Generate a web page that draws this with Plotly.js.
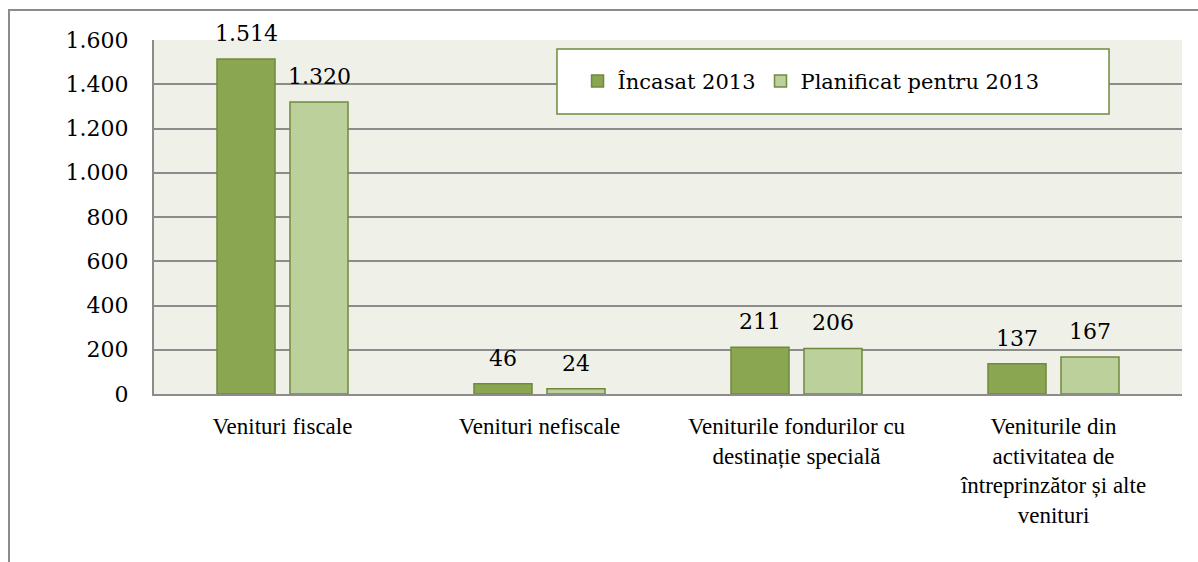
<!DOCTYPE html>
<html>
<head>
<meta charset="utf-8">
<script src="https://cdn.plot.ly/plotly-3.0.1.min.js"></script>
<style>
  html, body { margin: 0; padding: 0; background: #ffffff; }
  #wrap { position: relative; width: 1198px; height: 562px; overflow: hidden; }
  #chart { position: absolute; left: 0; top: 0; width: 1198px; height: 562px; }
  #frame { position: absolute; left: 8px; top: 9px; width: 1300px; height: 700px;
           border-top: 2px solid #8c8c8c; border-left: 2px solid #8c8c8c; pointer-events: none; }
</style>
</head>
<body>
<div id="wrap">
  <div id="chart"></div>
  <div id="frame"></div>
</div>
<script>
const categories = [
  "Venituri fiscale",
  "Venituri nefiscale",
  "Veniturile fondurilor cu<br>destinație specială",
  "Veniturile din<br>activitatea de<br>întreprinzător și alte<br>venituri"
];
const seriesNames = ["Încasat 2013", "Planificat pentru 2013"];
const incasat = [1514, 46, 211, 137];
const planificat = [1320, 24, 206, 167];
const yTickVals = [0, 200, 400, 600, 800, 1000, 1200, 1400, 1600];

const numFont = "DejaVu Serif";
const catFont = "Liberation Serif";
const darkFill = "#8aa650";
const lightFill = "#bbd09a";
const edge = "#71893f";

const traces = [
  {
    type: "bar", name: seriesNames[0], x: categories, y: incasat,
    marker: { color: darkFill, line: { color: edge, width: 1.5 } },
    hoverinfo: "skip"
  },
  {
    type: "bar", name: seriesNames[1], x: categories, y: planificat,
    marker: { color: lightFill, line: { color: edge, width: 1.5 } },
    hoverinfo: "skip"
  }
];

const fmt = v => v.toLocaleString("de-DE");
const annotations = [];
[incasat, planificat].forEach((vals, s) => {
  vals.forEach((v, i) => {
    annotations.push({
      x: categories[i], y: v, xref: "x", yref: "y",
      text: fmt(v), showarrow: false,
      xshift: s === 0 ? -36.5 : 36.5,
      yanchor: "bottom", yshift: 11,
      font: { family: numFont, size: 22, color: "#000" }
    });
  });
});

const layout = {
  width: 1198, height: 562,
  margin: { l: 154, r: 16, t: 40, b: 168, pad: 0 },
  paper_bgcolor: "#ffffff",
  plot_bgcolor: "#eff1e8",
  separators: ",.",
  barmode: "group",
  bargap: 0.432,
  bargroupgap: 0.205,
  showlegend: true,
  legend: {
    orientation: "h",
    x: 0.412, xanchor: "left",
    y: 0.883, yanchor: "middle",
    bgcolor: "rgba(0,0,0,0)",
    borderwidth: 0,
    font: { family: numFont, size: 21, color: "#000" },
    traceorder: "normal"
  },
  shapes: [
    {
      type: "rect", xref: "paper", yref: "paper", layer: "above",
      x0: 0.392, x1: 0.929, y0: 0.791, y1: 0.9746,
      fillcolor: "#ffffff", line: { color: edge, width: 1.5 }
    }
  ],
  xaxis: {
    type: "category",
    showgrid: false,
    showline: true, linecolor: "#8c8c8c", linewidth: 2,
    ticks: "", ticklen: 0,
    ticklabelstandoff: 10,
    tickfont: { family: catFont, size: 23, color: "#000" },
    fixedrange: true
  },
  yaxis: {
    range: [0, 1600],
    tickvals: yTickVals,
    tickformat: ",d",
    showgrid: true, gridcolor: "#8c8c8c", gridwidth: 2,
    showline: true, linecolor: "#8c8c8c", linewidth: 2,
    zeroline: false,
    ticks: "",
    ticklabelstandoff: 19,
    tickfont: { family: numFont, size: 22, color: "#000" },
    fixedrange: true
  },
  annotations: annotations
};

Plotly.newPlot("chart", traces, layout, { displayModeBar: false, staticPlot: true });
</script>
</body>
</html>
